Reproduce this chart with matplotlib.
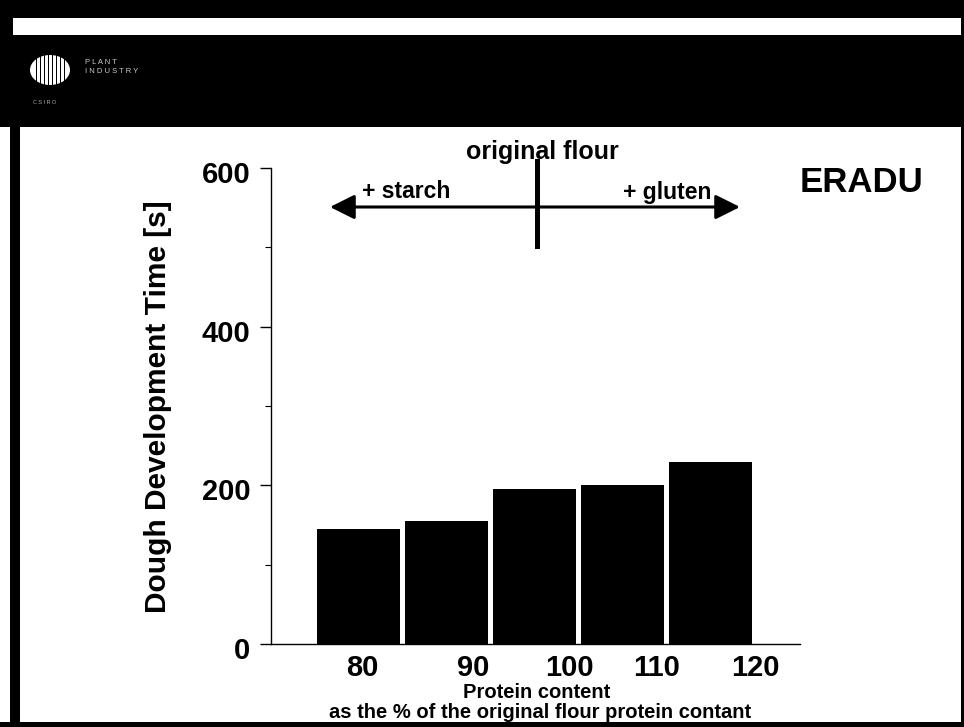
import matplotlib
matplotlib.use("Agg")
import matplotlib.pyplot as plt
from matplotlib.patches import Rectangle, Ellipse, FancyArrowPatch
from matplotlib.transforms import ScaledTranslation
import numpy as np

categories = ["80", "90", "100", "110", "120"]
ddt_values = [145, 155, 196, 201, 230]
y_ticks = [0, 200, 400, 600]
y_minor_ticks = [100, 300, 500]

W, H = 964, 727
fig = plt.figure(figsize=(W / 100, H / 100), dpi=100)
fig.patch.set_facecolor("white")
FONT = "Liberation Sans"

def px(x0, y0, x1, y1, color="black", z=0):
    fig.patches.append(Rectangle((x0 / W, 1 - y1 / H), (x1 - x0) / W, (y1 - y0) / H,
                                 transform=fig.transFigure, facecolor=color,
                                 edgecolor="none", zorder=z))

# slide frame / header
px(0, 0, W, 127)
px(13, 18, 961, 35, color="white", z=1)
px(0, 722, W, H)
px(10, 0, 20, H)
px(961, 0, W, H)

# logo
fig.patches.append(Ellipse((50 / W, 1 - 70 / H), 40 / W, 30 / H, transform=fig.transFigure,
                           facecolor="white", edgecolor="none", zorder=2))
for xx in np.arange(36, 68, 4):
    px(xx, 55, xx + 1.3, 86, color="black", z=3)
fig.text(85 / W, 1 - 67 / H, "P L A N T\nI N D U S T R Y", color="#cccccc", fontsize=5.5,
         va="center", ha="left", linespacing=1.4, family=FONT)
fig.text(33 / W, 1 - 102 / H, "C S I R O", color="#aaaaaa", fontsize=4, va="center",
         family=FONT)

# axes
ax = fig.add_axes([271 / W, 1 - 644 / H, (800 - 271) / W, (644 - 168) / H])
ax.set_facecolor("none")
x = np.arange(len(categories))
ax.bar(x, ddt_values, width=0.94, color="black", edgecolor="black", linewidth=0)
ax.set_xlim(-0.99, 5.02)
ax.set_ylim(0, 600)
for s in ["top", "right"]:
    ax.spines[s].set_visible(False)
ax.spines["left"].set_linewidth(1.0)
ax.spines["bottom"].set_linewidth(1.0)

ax.set_yticks(y_ticks)
ax.set_yticks(y_minor_ticks, minor=True)
ax.set_yticklabels([str(v) for v in y_ticks], fontsize=21, fontweight="bold", family=FONT)
ax.tick_params(axis="y", which="major", length=8, width=1, pad=7)
ax.tick_params(axis="y", which="minor", length=4, width=0.8)
offset = ScaledTranslation(0, -7 / 100, fig.dpi_scale_trans)
for lbl in ax.get_yticklabels():
    lbl.set_va("center")
    lbl.set_transform(lbl.get_transform() + offset)

ax.set_xticks(x + np.array([0.05, 0.31, 0.40, 0.39, 0.51]))
ax.set_xticklabels(categories, fontsize=21, fontweight="bold", family=FONT)
ax.tick_params(axis="x", length=0, pad=7)

# y label
fig.text(158 / W, 1 - 407 / H, "Dough Development Time [s]", rotation=90,
         ha="center", va="center", fontsize=21.5, fontweight="bold", family=FONT)

# x label lines
fig.text(537 / W, 1 - 692 / H, "Protein content", ha="center", va="center",
         fontsize=14.5, fontweight="bold", family=FONT)
fig.text(540 / W, 1 - 712 / H, "as the % of the original flour protein contant",
         ha="center", va="center", fontsize=14.5, fontweight="bold", family=FONT)

# annotations
fig.text(542 / W, 1 - 152 / H, "original flour", ha="center", va="center",
         fontsize=18, fontweight="bold", family=FONT)
fig.text(862 / W, 1 - 182 / H, "ERADU", ha="center", va="center",
         fontsize=25, fontweight="bold", family=FONT)
fig.text(406 / W, 1 - 192 / H, "+ starch", ha="center", va="center",
         fontsize=16.5, fontweight="bold", family=FONT)
fig.text(667 / W, 1 - 193 / H, "+ gluten", ha="center", va="center",
         fontsize=16.5, fontweight="bold", family=FONT)

arr = FancyArrowPatch((330 / W, 1 - 207 / H), (740 / W, 1 - 207 / H),
                      transform=fig.transFigure,
                      arrowstyle="<|-|>,head_length=10,head_width=5",
                      mutation_scale=1.5, color="black", linewidth=2.2,
                      shrinkA=0, shrinkB=0)
fig.patches.append(arr)
fig.lines.append(plt.Line2D([537 / W, 537 / W], [1 - 161 / H, 1 - 246 / H],
                            transform=fig.transFigure, color="black", linewidth=3.6))

fig.savefig("out.png", dpi=100, facecolor="white")
